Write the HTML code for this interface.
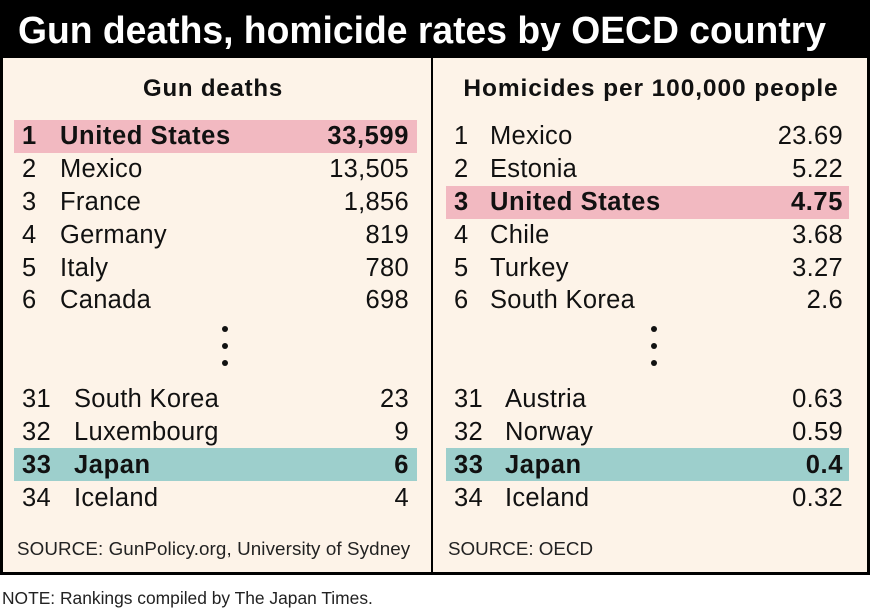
<!DOCTYPE html>
<html><head><style>
body{margin:0;width:870px;height:609px;background:#fff;position:relative;font-family:"Liberation Sans",sans-serif;overflow:hidden}
.a{position:absolute}
.bar{left:0;top:0;width:870px;height:58px;background:#000}
.box{left:0;top:58px;width:864px;height:514px;border:3px solid #000;border-top:none;background:#fdf3e8}
.div{left:431px;top:58px;width:2px;height:517px;background:#000}
.t{font-size:25.5px;color:#111;white-space:nowrap;line-height:32px;letter-spacing:0.3px}
.b{font-weight:bold;letter-spacing:0.6px}
.r{text-align:right}
.hl{height:33px}
</style></head><body>
<div class="a bar"></div>
<svg class="a" style="left:0;top:0" width="870" height="58"><text x="18" y="43" font-family="Liberation Sans" font-weight="bold" font-size="38" fill="#fff" textLength="808" lengthAdjust="spacingAndGlyphs">Gun deaths, homicide rates by OECD country</text></svg>
<div class="a box"></div>
<div class="a div"></div>
<div class="a hl" style="left:14px;top:120px;width:403px;background:#f2b9c1"></div>
<div class="a hl" style="left:14px;top:448px;width:403px;background:#9dcfcc"></div>
<div class="a hl" style="left:446px;top:186px;width:403px;background:#f2b9c1"></div>
<div class="a hl" style="left:446px;top:448px;width:403px;background:#9dcfcc"></div>
<div class="a t b" style="left:0;width:426px;text-align:center;top:73px;font-size:24px;letter-spacing:0.8px">Gun deaths</div>
<div class="a t b" style="left:432px;width:438px;text-align:center;top:73px;font-size:24.5px;letter-spacing:0.9px">Homicides per 100,000 people</div>
<div id="L"></div>
<div class="a" style="left:222px;top:326px;width:6px;height:6px;border-radius:3px;background:#111;box-shadow:0 17px 0 #111,0 34px 0 #111"></div>
<div class="a" style="left:651px;top:326px;width:6px;height:6px;border-radius:3px;background:#111;box-shadow:0 17px 0 #111,0 34px 0 #111"></div>
<div class="a" style="left:17px;top:538px;font-size:18.8px;color:#222;letter-spacing:0.1px">SOURCE: GunPolicy.org, University of Sydney</div>
<div class="a" style="left:448px;top:538px;font-size:18.8px;color:#222">SOURCE: OECD</div>
<div class="a" style="left:2px;top:588px;font-size:17.4px;color:#222">NOTE: Rankings compiled by The Japan Times.</div>
<script>
var ys=[120,153,186,219,252,284,383,416,449,482];
var L=[["1","United States","33,599",1],["2","Mexico","13,505"],["3","France","1,856"],["4","Germany","819"],["5","Italy","780"],["6","Canada","698"],["31","South Korea","23"],["32","Luxembourg","9"],["33","Japan","6",1],["34","Iceland","4"]];
var R=[["1","Mexico","23.69"],["2","Estonia","5.22"],["3","United States","4.75",1],["4","Chile","3.68"],["5","Turkey","3.27"],["6","South Korea","2.6"],["31","Austria","0.63"],["32","Norway","0.59"],["33","Japan","0.4",1],["34","Iceland","0.32"]];
var h="";
function add(d,ox,rx){d.forEach(function(r,i){var c=r[3]?" b":"";var nx=i<6?60:74;if(ox>400)nx=i<6?58:73;
h+='<div class="a t'+c+'" style="left:'+(ox+22)+'px;top:'+ys[i]+'px">'+r[0]+'</div>';
h+='<div class="a t'+c+'" style="left:'+(ox+nx)+'px;top:'+ys[i]+'px">'+r[1]+'</div>';
h+='<div class="a t r'+c+'" style="left:'+(rx-208)+'px;width:208px;top:'+ys[i]+'px">'+r[2]+'</div>';});}
add(L,0,409);add(R,432,843);
document.getElementById("L").innerHTML=h;
</script>
</body></html>
